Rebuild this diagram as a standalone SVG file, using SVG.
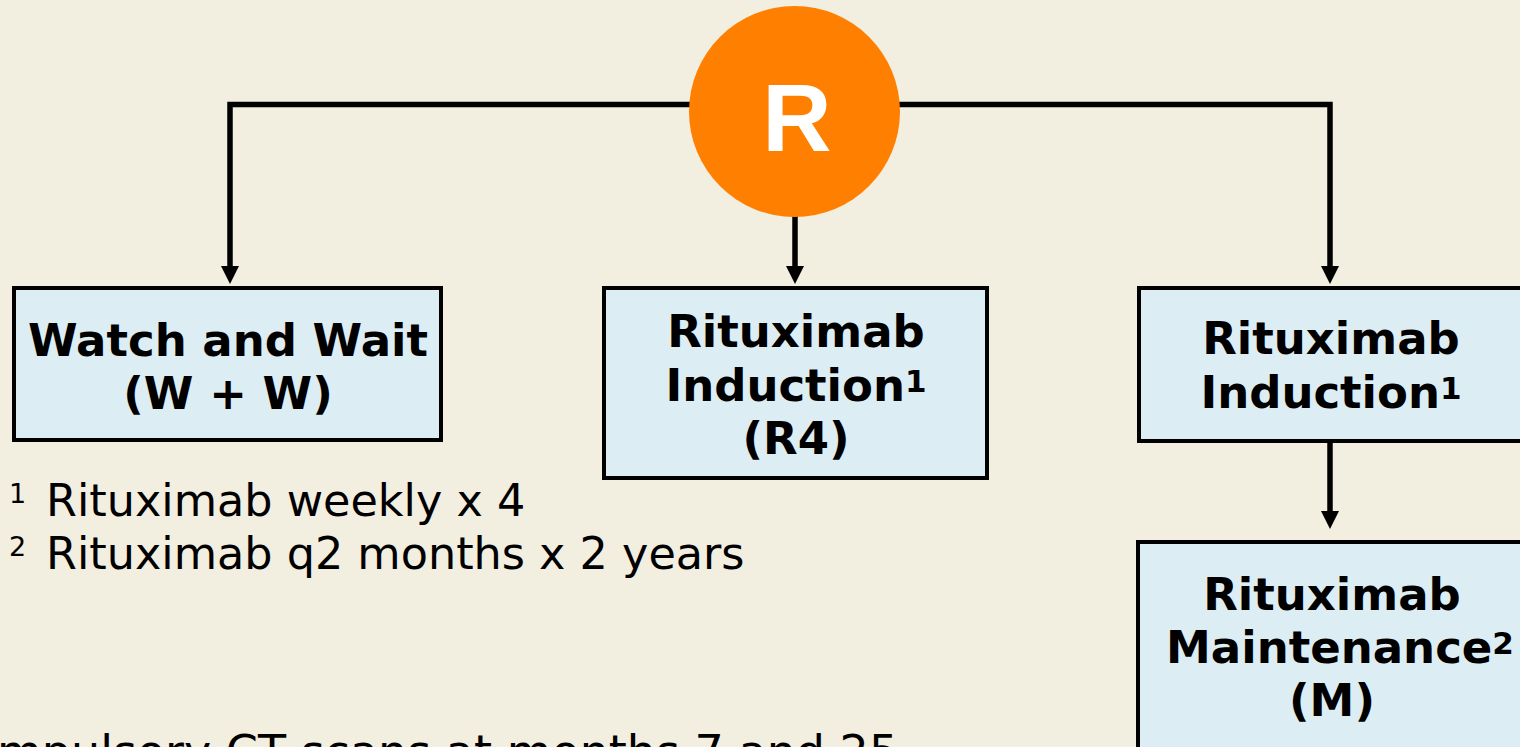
<svg xmlns="http://www.w3.org/2000/svg" width="1520" height="747" viewBox="0 0 1520 747">
  <style>
    .box { fill: #DDEDF4; stroke: #000; stroke-width: 4; }
    .lbl { font-family: "DejaVu Sans", Verdana, sans-serif; font-weight: bold; font-size: 45px; fill: #000; text-anchor: middle; }
    .sp { font-size: 31px; font-weight: bold; }
    .note { font-family: "DejaVu Sans", Verdana, sans-serif; font-size: 44.5px; fill: #000; }
    .cut { font-family: "DejaVu Sans", Verdana, sans-serif; font-size: 46px; fill: #000; }
    .sup { font-family: "DejaVu Sans", Verdana, sans-serif; font-size: 27px; fill: #000; }
    .wire { fill: none; stroke: #000; stroke-width: 5.5; }
    .head { fill: #000; }
  </style>
  <rect x="0" y="0" width="1520" height="747" fill="#F2EEE0"/>

  <g id="connectors">
    <path class="wire" d="M230,270 V104.5 H1330 V270"/>
    <path class="wire" d="M795,210 V270"/>
    <path class="wire" d="M1330,441 V514"/>
    <polygon class="head" points="221,266 239,266 230,284"/>
    <polygon class="head" points="786,266 804,266 795,284"/>
    <polygon class="head" points="1321,266 1339,266 1330,284"/>
    <polygon class="head" points="1321,511 1339,511 1330,529"/>
  </g>

  <g id="node-R">
    <circle cx="794.5" cy="111.5" r="105.5" fill="#FF7F00"/>
    <text x="797" y="151" font-family="Liberation Sans, Arial, sans-serif" font-weight="bold" font-size="96" fill="#FFFFFF" text-anchor="middle">R</text>
  </g>

  <g id="node-ww">
    <rect class="box" x="14" y="288" width="427" height="152"/>
    <text class="lbl" x="228" y="356">Watch and Wait</text>
    <text class="lbl" x="228" y="409">(W + W)</text>
  </g>

  <g id="node-r4">
    <rect class="box" x="604" y="288" width="383" height="190"/>
    <text class="lbl" x="796" y="347">Rituximab</text>
    <text class="lbl" x="796" y="401">Induction<tspan class="sp" dy="-9">1</tspan></text>
    <text class="lbl" x="796" y="454">(R4)</text>
  </g>

  <g id="node-induction">
    <rect class="box" x="1139" y="288" width="400" height="153"/>
    <text class="lbl" x="1331" y="354">Rituximab</text>
    <text class="lbl" x="1331" y="408">Induction<tspan class="sp" dy="-9">1</tspan></text>
  </g>

  <g id="node-maintenance">
    <rect class="box" x="1138" y="542" width="400" height="230"/>
    <text class="lbl" x="1332" y="610">Rituximab</text>
    <text class="lbl" x="1340" y="663">Maintenance<tspan class="sp" dy="-9">2</tspan></text>
    <text class="lbl" x="1332" y="716">(M)</text>
  </g>

  <g id="footnotes">
    <text class="sup" x="9" y="503">1</text>
    <text class="note" x="46" y="516">Rituximab weekly x 4</text>
    <text class="sup" x="9" y="556">2</text>
    <text class="note" x="46" y="569">Rituximab q2 months x 2 years</text>
    <text class="cut" x="-3" y="768">mpulsory CT scans at months 7 and 25</text>
  </g>
</svg>
